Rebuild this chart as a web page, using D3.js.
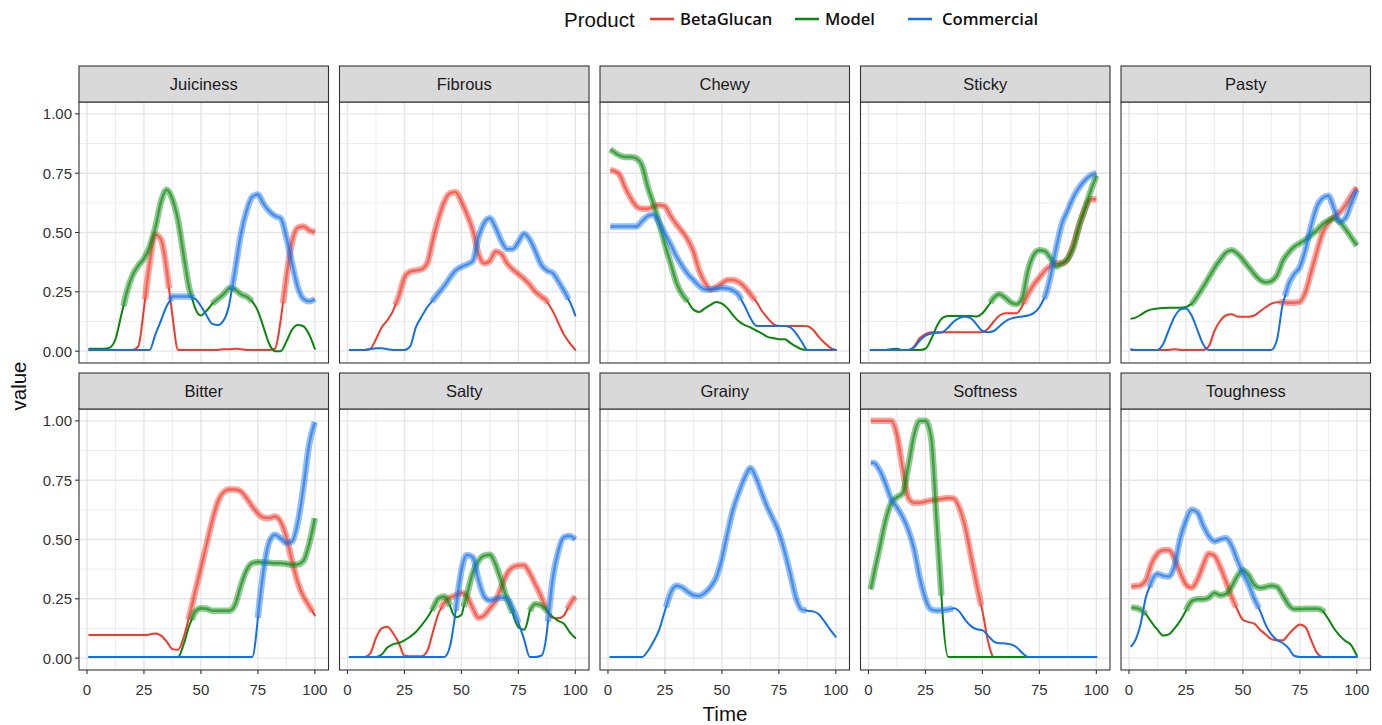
<!DOCTYPE html>
<html><head><meta charset="utf-8">
<script src="https://cdn.jsdelivr.net/npm/d3@7"></script>
<style>body{margin:0;background:#fff}svg{display:block}</style>
</head><body><svg id="c" width="1382" height="725"></svg>
<script>
// ---------------- DATA ----------------
const TIME = [1,2.5,5,7.5,10,12.5,15,17.5,20,22.5,25,27.5,30,32.5,35,37.5,40,42.5,45,47.5,50,52.5,55,57.5,60,62.5,65,67.5,70,72.5,75,77.5,80,82.5,85,87.5,90,92.5,95,97.5,100];
const FACETS = ["Juiciness","Fibrous","Chewy","Sticky","Pasty","Bitter","Salty","Grainy","Softness","Toughness"];
const PRODUCTS = ["BetaGlucan","Model","Commercial"];
const X_TICKS = [0,25,50,75,100];
const Y_TICKS = [0,0.25,0.5,0.75,1];
const Y_TICK_LABELS = ["0.00","0.25","0.50","0.75","1.00"];

const JUICINESS_BETAGLUCAN = [.005,.005,.005,.005,.005,.005,.005,.005,.005,.02, .18,.37,.49,.47,.34,.15,.005,.005,.005,.005, .005,.005,.005,.005,.008,.008,.01,.008,.005,.005, .005,.005,.005,.01,.13,.31,.46,.52,.525,.51, .50];
const JUICINESS_MODEL = [.01,.01,.01,.01,.015,.05,.15,.25,.32,.36, .39,.44,.52,.63,.68,.64,.55,.40,.26,.18, .15,.17,.20,.22,.24,.265,.26,.24,.23,.21, .17,.10,.03,0,0,.04,.09,.11,.105,.07, .01];
const JUICINESS_COMMERCIAL = [.005,.005,.005,.005,.005,.005,.005,.005,.005,.005, .005,.005,.07,.13,.19,.23,.23,.23,.23,.22, .19,.15,.115,.11,.13,.2,.34,.49,.59,.65, .66,.62,.59,.57,.56,.48,.37,.27,.22,.21, .22];

const FIBROUS_BETAGLUCAN = [.005,.005,.005,.005,.01,.05,.1,.13,.17,.23, .31,.335,.34,.345,.37,.47,.56,.63,.665,.67, .63,.575,.51,.41,.37,.38,.42,.41,.37,.345, .325,.305,.28,.25,.23,.21,.17,.12,.07,.035, .005];
const FIBROUS_COMMERCIAL = [.005,.005,.005,.005,.008,.012,.012,.008,.005,.005, .005,.02,.1,.145,.185,.215,.245,.275,.31,.34, .355,.365,.38,.48,.54,.56,.52,.465,.43,.43, .46,.495,.47,.42,.365,.34,.33,.295,.255,.21, .15];

const CHEWY_BETAGLUCAN = [.763,.76,.745,.69,.645,.61,.6,.6,.61,.615, .61,.57,.535,.505,.47,.42,.34,.29,.26,.27, .285,.3,.3,.29,.27,.24,.21,.17,.14,.115, .106,.106,.106,.106,.106,.105,.09,.06,.035,.015, .005];
const CHEWY_MODEL = [.85,.84,.825,.818,.818,.812,.78,.69,.62,.54, .45,.37,.29,.24,.21,.175,.165,.18,.195,.207, .2,.18,.15,.125,.11,.1,.087,.075,.06,.055, .05,.05,.035,.02,.008,.005,.005,.005,.005,.005, .005];
const CHEWY_COMMERCIAL = [.525,.525,.525,.525,.525,.525,.548,.57,.575,.54, .495,.45,.4,.36,.325,.3,.275,.26,.26,.262, .266,.264,.255,.235,.19,.14,.107,.106,.106,.106, .106,.106,.1,.075,.04,.005,.005,.005,.005,.005, .005];

const STICKY_BETAGLUCAN = [.005,.005,.005,.005,.005,.005,.005,.005,.02,.055, .072,.08,.08,.08,.08,.08,.08,.08,.08,.08, .08,.095,.125,.15,.16,.16,.16,.19,.24,.28, .31,.34,.36,.37,.37,.39,.45,.53,.6,.64, .64];
const STICKY_MODEL = [.005,.005,.005,.005,.008,.01,.005,.005,.005,.005, .01,.05,.105,.14,.148,.148,.148,.148,.148,.146, .16,.19,.225,.24,.225,.205,.198,.225,.34,.405, .425,.42,.39,.357,.37,.39,.44,.53,.6,.675, .74];
const STICKY_COMMERCIAL = [.005,.005,.005,.005,.005,.005,.005,.005,.015,.045, .065,.074,.077,.08,.1,.125,.14,.145,.138,.112, .085,.08,.085,.105,.125,.137,.143,.146,.15,.16, .185,.23,.32,.44,.54,.595,.65,.69,.72,.74, .75];

const PASTY_BETAGLUCAN = [.005,.005,.005,.005,.005,.005,.005,.005,.008,.005, .005,.005,.005,.005,.02,.085,.127,.15,.155,.146, .145,.145,.15,.168,.185,.2,.206,.206,.204,.204, .208,.25,.335,.42,.5,.54,.567,.585,.615,.655, .69];
const PASTY_MODEL = [.137,.14,.152,.168,.176,.18,.182,.183,.183,.183, .186,.2,.232,.27,.31,.35,.385,.415,.425,.412, .385,.355,.325,.3,.29,.295,.32,.38,.415,.44, .455,.47,.49,.51,.535,.55,.56,.545,.515,.48, .445];
const PASTY_COMMERCIAL = [.008,.005,.005,.005,.005,.005,.03,.09,.145,.175, .18,.15,.09,.03,.005,.005,.005,.005,.005,.005, .005,.005,.005,.005,.005,.005,.05,.2,.28,.325, .355,.43,.53,.61,.645,.655,.6,.545,.56,.62, .68];

const BITTER_BETAGLUCAN = [.097,.097,.097,.097,.097,.097,.097,.097,.097,.097, .097,.1,.104,.095,.07,.038,.035,.09,.18,.28, .38,.48,.58,.66,.7,.711,.711,.703,.675,.64, .61,.592,.59,.597,.575,.51,.41,.32,.26,.22, .18];
const BITTER_MODEL = [.005,.005,.005,.005,.005,.005,.005,.005,.005,.005, .005,.005,.005,.005,.005,.005,.005,.06,.14,.195, .21,.208,.2,.2,.2,.2,.225,.305,.37,.4, .405,.403,.402,.4,.4,.398,.393,.395,.41,.48, .59];
const BITTER_COMMERCIAL = [.005,.005,.005,.005,.005,.005,.005,.005,.005,.005, .005,.005,.005,.005,.005,.005,.005,.005,.005,.005, .005,.005,.005,.005,.005,.005,.005,.005,.005,.005, .17,.37,.49,.52,.505,.485,.492,.57,.72,.9, .995];

const SALTY_BETAGLUCAN = [.005,.005,.005,.005,.02,.085,.125,.132,.105,.065, .01,.008,.008,.008,.03,.11,.19,.235,.255,.265, .275,.26,.21,.17,.18,.21,.24,.3,.355,.383, .39,.392,.358,.31,.26,.2,.17,.168,.18,.225, .26];
const SALTY_MODEL = [.005,.005,.005,.005,.005,.005,.015,.045,.058,.064, .075,.09,.11,.138,.17,.21,.252,.26,.22,.172, .182,.27,.36,.41,.432,.436,.395,.325,.25,.19, .13,.12,.2,.228,.222,.2,.175,.157,.145,.11, .085];
const SALTY_COMMERCIAL = [.005,.005,.005,.005,.005,.005,.005,.005,.005,.005, .005,.005,.005,.005,.005,.005,.005,.005,.05,.2, .37,.435,.425,.33,.26,.243,.25,.255,.252,.21, .15,.08,.005,.005,.01,.11,.33,.45,.51,.515, .5];

const GRAINY_COMMERCIAL = [.005,.005,.005,.005,.005,.005,.005,.03,.07,.12, .2,.275,.305,.298,.28,.265,.262,.275,.3,.34, .42,.53,.63,.7,.76,.8,.76,.695,.635,.585, .53,.45,.355,.255,.205,.2,.197,.185,.155,.12, .09];

const SOFTNESS_BETAGLUCAN = [1,1,1,1,1,.94,.8,.675,.655,.655, .66,.665,.668,.672,.675,.672,.63,.55,.43,.31, .2,.07,.005,.005,.005,.005,.005,.005,.005,.005, .005,.005,.005,.005,.005,.005,.005,.005,.005,.005, .005];
const SOFTNESS_MODEL = [.29,.36,.47,.58,.655,.678,.695,.81,.94,1, 1,.93,.56,.19,.005,.005,.005,.005,.005,.005, .005,.005,.005,.005,.005,.005,.005,.005,.005,.005, .005,.005,.005,.005,.005,.005,.005,.005,.005,.005, .005];
const SOFTNESS_COMMERCIAL = [.824,.822,.79,.735,.67,.635,.595,.54,.46,.34, .25,.205,.2,.202,.205,.21,.195,.16,.135,.122, .118,.095,.07,.063,.062,.058,.046,.022,.005,.005, .005,.005,.005,.005,.005,.005,.005,.005,.005,.005, .005];

const TOUGHNESS_BETAGLUCAN = [.302,.303,.307,.33,.4,.44,.455,.455,.42,.36, .31,.297,.33,.39,.44,.432,.385,.325,.26,.205, .162,.152,.145,.12,.1,.08,.075,.075,.1,.125, .142,.13,.075,.022,.005,.005,.005,.005,.005,.005, .005];
const TOUGHNESS_MODEL = [.214,.212,.205,.185,.15,.12,.095,.1,.125,.158, .2,.24,.248,.248,.255,.275,.265,.27,.3,.345, .37,.35,.31,.296,.3,.305,.3,.265,.225,.207, .207,.208,.208,.208,.2,.165,.125,.095,.072,.055, .01];
const TOUGHNESS_COMMERCIAL = [.05,.07,.14,.26,.325,.355,.347,.344,.39,.505, .58,.625,.615,.56,.515,.492,.5,.506,.475,.415, .36,.31,.25,.2,.14,.1,.076,.064,.042,.01, .005,.005,.005,.005,.005,.005,.005,.005,.005,.005, .005];

// time intervals drawn as the wide band
const SIG = {
  Juiciness:{BetaGlucan:[[25.5,36],[86,100]], Model:[[16,46],[55,72.5]], Commercial:[[36.5,47],[63.5,100]]},
  Fibrous:{BetaGlucan:[[21,88]], Commercial:[[37,97]]},
  Chewy:{BetaGlucan:[[1,64.5]], Model:[[1,35]], Commercial:[[1,58.5]]},
  Sticky:{BetaGlucan:[[68,100]], Model:[[53.5,100]], Commercial:[[77,100]]},
  Pasty:{BetaGlucan:[[66,100]], Model:[[27,100]], Commercial:[[68.5,100]]},
  Bitter:{BetaGlucan:[[44.5,99]], Model:[[46,100]], Commercial:[[75,100]]},
  Salty:{BetaGlucan:[[41,87],[96.5,100]], Model:[[37,45],[51,72.5],[80,88]], Commercial:[[47.5,75],[88,100]]},
  Grainy:{Commercial:[[25.5,87]]},
  Softness:{BetaGlucan:[[1,49.5]], Model:[[1,32]], Commercial:[[1,37]]},
  Toughness:{BetaGlucan:[[1,47]], Model:[[1,7.5],[25,85.5]], Commercial:[[9,57]]}
};

const VALUES = {
  Juiciness:{BetaGlucan:JUICINESS_BETAGLUCAN, Model:JUICINESS_MODEL, Commercial:JUICINESS_COMMERCIAL},
  Fibrous:{BetaGlucan:FIBROUS_BETAGLUCAN, Commercial:FIBROUS_COMMERCIAL},
  Chewy:{BetaGlucan:CHEWY_BETAGLUCAN, Model:CHEWY_MODEL, Commercial:CHEWY_COMMERCIAL},
  Sticky:{BetaGlucan:STICKY_BETAGLUCAN, Model:STICKY_MODEL, Commercial:STICKY_COMMERCIAL},
  Pasty:{BetaGlucan:PASTY_BETAGLUCAN, Model:PASTY_MODEL, Commercial:PASTY_COMMERCIAL},
  Bitter:{BetaGlucan:BITTER_BETAGLUCAN, Model:BITTER_MODEL, Commercial:BITTER_COMMERCIAL},
  Salty:{BetaGlucan:SALTY_BETAGLUCAN, Model:SALTY_MODEL, Commercial:SALTY_COMMERCIAL},
  Grainy:{Commercial:GRAINY_COMMERCIAL},
  Softness:{BetaGlucan:SOFTNESS_BETAGLUCAN, Model:SOFTNESS_MODEL, Commercial:SOFTNESS_COMMERCIAL},
  Toughness:{BetaGlucan:TOUGHNESS_BETAGLUCAN, Model:TOUGHNESS_MODEL, Commercial:TOUGHNESS_COMMERCIAL}
};

// ---------------- STYLE / LAYOUT ----------------
const COLORS = {BetaGlucan:"#f4392b", Model:"#08870b", Commercial:"#1370e8"};
const FONT = "'Liberation Sans', Arial, sans-serif";
const LEG_FONT = "'Open Sans', 'Noto Sans', sans-serif";
const PW = 249.5, PLEFT0 = 79, PSTEP = 260.5;
const STRIP_H = 36, PLOT_H = 261, ROW_TOP = [66, 373];

const svg = d3.select("#c");
const defs = svg.append("defs");

function interp(vals, t){
  for (let i=0;i<TIME.length-1;i++){
    if (t>=TIME[i] && t<=TIME[i+1]){
      const f=(t-TIME[i])/(TIME[i+1]-TIME[i]);
      return vals[i]+(vals[i+1]-vals[i])*f;
    }
  }
  return t<TIME[0]?vals[0]:vals[vals.length-1];
}
function pts(vals,a,b){
  const p=[[a,interp(vals,a)]];
  TIME.forEach((t,i)=>{ if(t>a+1e-9 && t<b-1e-9) p.push([t,vals[i]]); });
  p.push([b,interp(vals,b)]);
  return p;
}
function complement(iv){
  const out=[]; let cur=TIME[0];
  iv.slice().sort((a,b)=>a[0]-b[0]).forEach(([a,b])=>{
    if(a>cur) out.push([cur,a]);
    cur=Math.max(cur,b);
  });
  if(cur<TIME[TIME.length-1]) out.push([cur,TIME[TIME.length-1]]);
  return out;
}

FACETS.forEach((name, k)=>{
  const r = Math.floor(k/5), c = k%5;
  const left = PLEFT0 + c*PSTEP;
  const stripTop = ROW_TOP[r];
  const top = stripTop + STRIP_H, bottom = top + PLOT_H;
  const x = d3.scaleLinear().domain([-3.5,106]).range([left, left+PW]);
  const y = d3.scaleLinear().domain([-0.05,1.05]).range([bottom, top]);
  const g = svg.append("g");

  g.append("rect").attr("x",left).attr("y",top).attr("width",PW).attr("height",PLOT_H).attr("fill","#fff");

  // grid
  const xMinor = [12.5,37.5,62.5,87.5], yMinor=[0.125,0.375,0.625,0.875];
  g.selectAll(null).data(xMinor).enter().append("line")
    .attr("x1",d=>x(d)).attr("x2",d=>x(d)).attr("y1",top).attr("y2",bottom)
    .attr("stroke","#ebebeb").attr("stroke-width",0.9);
  g.selectAll(null).data(yMinor).enter().append("line")
    .attr("y1",d=>y(d)).attr("y2",d=>y(d)).attr("x1",left).attr("x2",left+PW)
    .attr("stroke","#ebebeb").attr("stroke-width",0.9);
  g.selectAll(null).data(X_TICKS).enter().append("line")
    .attr("x1",d=>x(d)).attr("x2",d=>x(d)).attr("y1",top).attr("y2",bottom)
    .attr("stroke","#e6e6e6").attr("stroke-width",1.4);
  g.selectAll(null).data(Y_TICKS).enter().append("line")
    .attr("y1",d=>y(d)).attr("y2",d=>y(d)).attr("x1",left).attr("x2",left+PW)
    .attr("stroke","#e6e6e6").attr("stroke-width",1.4);

  // clip
  const cid = "clip"+k;
  defs.append("clipPath").attr("id",cid).append("rect")
    .attr("x",left).attr("y",top).attr("width",PW).attr("height",PLOT_H);
  const lg = g.append("g").attr("clip-path",`url(#${cid})`);
  const line = d3.line().x(d=>x(d[0])).y(d=>y(d[1])).curve(d3.curveMonotoneX);

  PRODUCTS.forEach(p=>{
    const vals = VALUES[name][p];
    if(!vals) return;
    const sig = (SIG[name] && SIG[name][p]) || [];
    const col = COLORS[p];
    complement(sig).forEach(([a,b])=>{
      lg.append("path").attr("d",line(pts(vals,a,b))).attr("fill","none")
        .attr("stroke",col).attr("stroke-width",2).attr("stroke-linejoin","round").attr("stroke-linecap","round");
    });
    sig.forEach(([a,b])=>{
      const d = line(pts(vals,a,b));
      lg.append("path").attr("d",d).attr("fill","none")
        .attr("stroke",col).attr("stroke-opacity",0.45).attr("stroke-width",6.5)
        .attr("stroke-linejoin","round").attr("stroke-linecap","butt");
      lg.append("path").attr("d",d).attr("fill","none")
        .attr("stroke",col).attr("stroke-opacity",0.6).attr("stroke-width",2.4)
        .attr("stroke-linejoin","round");
    });
  });

  // border
  g.append("rect").attr("x",left).attr("y",top).attr("width",PW).attr("height",PLOT_H)
    .attr("fill","none").attr("stroke","#333").attr("stroke-width",1.1);
  // strip
  g.append("rect").attr("x",left).attr("y",stripTop).attr("width",PW).attr("height",STRIP_H)
    .attr("fill","#d9d9d9").attr("stroke","#333").attr("stroke-width",1.1);
  g.append("text").attr("x",left+PW/2).attr("y",stripTop+STRIP_H/2).attr("dy","0.36em")
    .attr("text-anchor","middle").attr("font-family",FONT).attr("font-size",16.5)
    .attr("fill","#1a1a1a").text(name);

  if(c===0){
    g.selectAll(null).data(Y_TICKS).enter().append("line")
      .attr("x1",left-4).attr("x2",left).attr("y1",d=>y(d)).attr("y2",d=>y(d))
      .attr("stroke","#333").attr("stroke-width",1.1);
    g.selectAll(null).data(Y_TICKS).enter().append("text")
      .attr("x",left-7).attr("y",d=>y(d)).attr("dy","0.36em").attr("text-anchor","end")
      .attr("font-family",FONT).attr("font-size",15).attr("fill","#333")
      .text((d,i)=>Y_TICK_LABELS[i]);
  }
  if(r===1){
    g.selectAll(null).data(X_TICKS).enter().append("line")
      .attr("x1",d=>x(d)).attr("x2",d=>x(d)).attr("y1",bottom).attr("y2",bottom+4)
      .attr("stroke","#333").attr("stroke-width",1.1);
    g.selectAll(null).data(X_TICKS).enter().append("text")
      .attr("x",d=>x(d)).attr("y",bottom+20).attr("dy","0.36em").attr("text-anchor","middle")
      .attr("font-family",FONT).attr("font-size",15).attr("fill","#333")
      .text(d=>d);
  }
});

// axis titles
svg.append("text").attr("x",725).attr("y",721).attr("text-anchor","middle")
  .attr("font-family",FONT).attr("font-size",20.5).attr("fill","#111").text("Time");
svg.append("text").attr("transform","translate(26,386) rotate(-90)").attr("text-anchor","middle")
  .attr("font-family",FONT).attr("font-size",20.5).attr("fill","#111").text("value");

// legend
svg.append("text").attr("x",564).attr("y",27).attr("font-family",FONT).attr("font-size",20.5)
  .attr("fill","#111").text("Product");
const LEG_X = {BetaGlucan:650, Model:795, Commercial:908};
const LEG_TX = {BetaGlucan:680, Model:825, Commercial:942};
PRODUCTS.forEach(p=>{
  svg.append("line").attr("x1",LEG_X[p]).attr("x2",LEG_X[p]+24).attr("y1",19).attr("y2",19)
    .attr("stroke",COLORS[p]).attr("stroke-width",2.5);
  svg.append("text").attr("x",LEG_TX[p]).attr("y",25).attr("font-family",LEG_FONT)
    .attr("font-size",16.6).attr("font-weight",600).attr("fill","#111").text(p);
});
</script></body></html>
